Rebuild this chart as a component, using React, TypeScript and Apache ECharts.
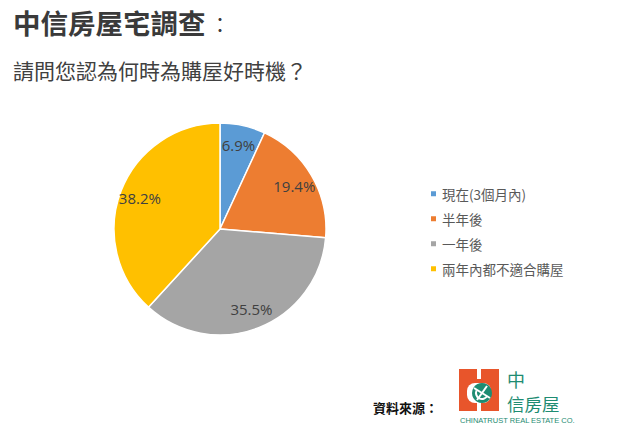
import React, { useEffect, useRef } from "react";
import * as echarts from "echarts";

const categories = ["現在(3個月內)", "半年後", "一年後", "兩年內都不適合購屋"];
const values = [6.9, 19.4, 35.5, 38.2];
const colors = ["#5B9BD5", "#ED7D31", "#A5A5A5", "#FFC000"];
const titleText = "中信房屋宅調查";
const subtitleText = "請問您認為何時為購屋好時機？";
const sourceText = "資料來源：";

export default function App() {
  const ref = useRef<HTMLDivElement>(null);
  useEffect(() => {
    document.body.style.margin = "0";
    const chart = echarts.init(ref.current!, null, { renderer: "svg" });
    const data = categories.map((name, i) => ({ name, value: values[i], itemStyle: { color: colors[i] } }));
    const font = "'Noto Sans CJK TC', 'Noto Sans', sans-serif";
    chart.setOption({
      animation: false,
      backgroundColor: "#ffffff",
      legend: {
        orient: "vertical",
        left: 424,
        top: 182,
        itemWidth: 7,
        itemHeight: 7,
        itemGap: 11.5,
        icon: "rect",
        textStyle: { color: "#595959", fontSize: 13.5, fontFamily: font },
        data: categories,
      },
      series: [
        {
          type: "pie",
          center: [220, 229],
          radius: 106,
          startAngle: 90,
          clockwise: true,
          label: { show: false },
          labelLine: { show: false },
          itemStyle: { borderColor: "#ffffff", borderWidth: 1.5 },
          emphasis: { disabled: true },
          data,
        },
        {
          type: "pie",
          center: [220, 229],
          radius: [60, 106],
          startAngle: 90,
          clockwise: true,
          silent: true,
          legendHoverLink: false,
          itemStyle: { color: "transparent" },
          label: {
            show: true,
            position: "inside",
            formatter: (p: any) => p.value.toFixed(1) + "%",
            color: "#404040",
            fontSize: 15,
            fontFamily: "'Open Sans', sans-serif",
          },
          labelLine: { show: false },
          emphasis: { disabled: true },
          data: categories.map((name, i) => ({ name: name + " ", value: values[i] })),
        },
      ],
      graphic: [
        {
          type: "text",
          x: 13,
          y: 22,
          style: { text: titleText, font: `bold 27.5px ${font}`, fill: "#3a3a3a", textVerticalAlign: "middle" },
        },
        {
          type: "text",
          x: 210,
          y: 24,
          style: { text: "：", font: `20px ${font}`, fill: "#3a3a3a", textVerticalAlign: "middle" },
        },
        {
          type: "text",
          x: 13,
          y: 70,
          style: { text: subtitleText, font: `21px ${font}`, fill: "#404040", textVerticalAlign: "middle" },
        },
        {
          type: "text",
          left: 373,
          top: 401,
          style: { text: sourceText, font: `bold 13px ${font}`, fill: "#111111" },
        },
        // logo
        { type: "rect", shape: { x: 459, y: 369, width: 40, height: 42 }, style: { fill: "#E8552B" } },
        { type: "rect", shape: { x: 477, y: 369, width: 4, height: 10 }, style: { fill: "#ffffff" } },
        { type: "rect", shape: { x: 477, y: 401, width: 4, height: 10 }, style: { fill: "#ffffff" } },
        { type: "rect", shape: { x: 467, y: 383, width: 24, height: 20, r: 8 }, style: { fill: "#ffffff" } },
        { type: "circle", shape: { cx: 482, cy: 393, r: 10 }, style: { fill: "#1E8C72" } },
        { type: "arc", shape: { cx: 482, cy: 393, r: 6, startAngle: 0.5, endAngle: 3.6 }, style: { stroke: "#ffffff", lineWidth: 2, fill: "none" } },
        { type: "line", shape: { x1: 474, y1: 388, x2: 490, y2: 398 }, style: { stroke: "#ffffff", lineWidth: 2 } },
        { type: "line", shape: { x1: 477, y1: 400, x2: 487, y2: 386 }, style: { stroke: "#ffffff", lineWidth: 2 } },
        { type: "text", x: 507, y: 379, style: { text: "中", font: `18px ${font}`, fill: "#1E8C72", textVerticalAlign: "middle" } },
        { type: "text", x: 507, y: 403, style: { text: "信房屋", font: `17.5px ${font}`, fill: "#1E8C72", textVerticalAlign: "middle" } },
        { type: "text", x: 460, y: 420, style: { text: "CHINATRUST REAL ESTATE CO.", font: `7.5px 'Liberation Sans', sans-serif`, fill: "#1E8C72", textVerticalAlign: "middle" } },
      ],
    });
    return () => chart.dispose();
  }, []);
  return <div ref={ref} style={{ position: "absolute", left: 0, top: 0, width: 635, height: 430 }} />;
}
